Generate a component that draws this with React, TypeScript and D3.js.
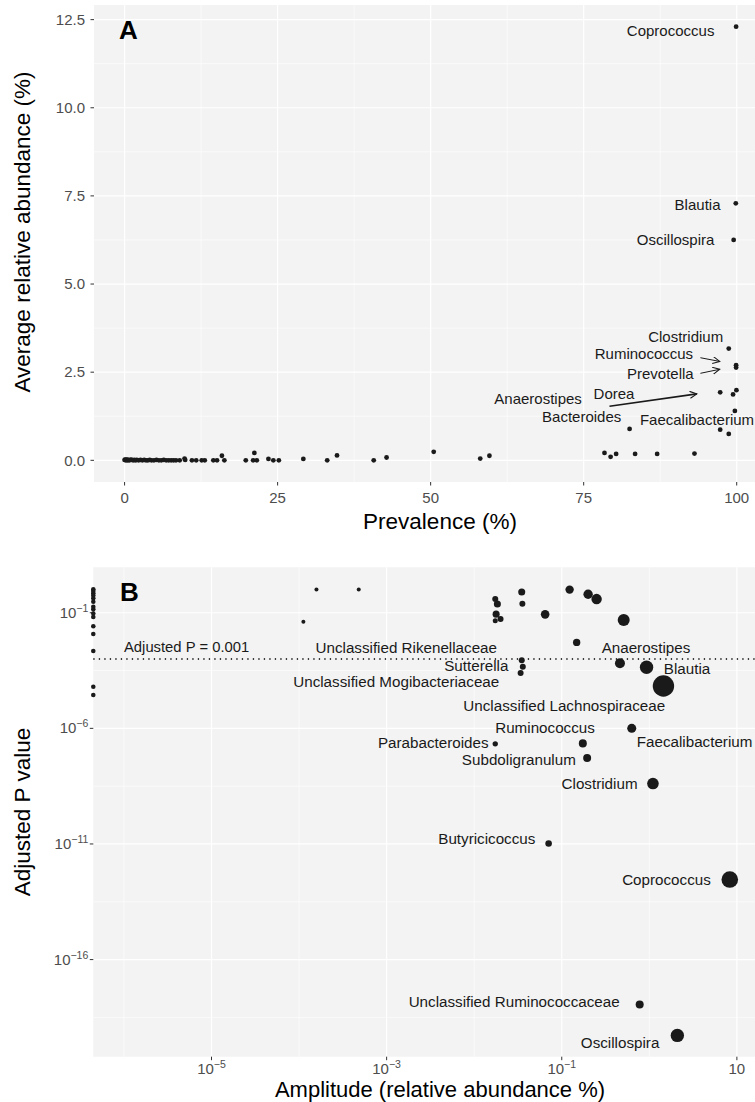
import React from "react";
import * as d3 from "d3";

// ---------- Panel A data (prevalence %, average relative abundance %) ----------
const aPrevalence = [
  0.0, 0.1, 0.2, 0.3, 0.4, 0.5, 0.6, 0.8, 1.0, 1.2, 1.4, 1.6, 1.8, 2.0, 2.3, 2.6, 2.9, 3.2, 3.5, 3.8,
  4.1, 4.4, 4.8, 5.2, 5.6, 6.0, 6.4, 6.8, 7.2, 7.6, 8.0, 8.4,
  9.0, 9.8, 9.9, 11.0, 11.7, 12.6, 13.1, 14.5, 15.1, 15.9, 16.3, 19.8, 21.0, 21.2, 21.6, 23.5, 24.3, 25.2,
  29.2, 33.1, 34.7, 40.7, 42.8, 50.5, 58.1, 59.6, 78.4, 79.4, 80.3, 83.4, 87.0, 93.1, 97.3, 98.7, 99.4,
];
const aAbundance = [
  0.01, 0.02, 0.0, 0.01, 0.02, 0.0, 0.01, 0.0, 0.02, 0.01, 0.0, 0.01, 0.0, 0.01, 0.0, 0.01, 0.0, 0.01, 0.0, 0.0,
  0.01, 0.0, 0.0, 0.01, 0.0, 0.0, 0.01, 0.0, 0.0, 0.0, 0.0, 0.0,
  0.0, 0.05, 0.01, 0.0, 0.0, 0.0, 0.0, 0.0, 0.0, 0.13, 0.0, 0.0, 0.0, 0.21, 0.0, 0.04, 0.0, 0.0,
  0.04, 0.0, 0.14, 0.0, 0.08, 0.24, 0.05, 0.13, 0.21, 0.1, 0.18, 0.18, 0.18, 0.19, 0.87, 0.75, 1.87,
];
const aNames = ["Coprococcus", "Blautia", "Oscillospira", "Clostridium", "Ruminococcus", "Prevotella", "Dorea", "Anaerostipes", "Bacteroides", "Faecalibacterium"];
const aNamedPrev = [99.9, 99.85, 99.5, 98.7, 99.9, 99.9, 99.95, 97.3, 82.5, 99.7];
const aNamedAbund = [12.3, 7.29, 6.25, 3.17, 2.7, 2.63, 1.99, 1.93, 0.89, 1.4];

// label placement (pixel offsets from the point)
const aLabelPlace: Record<string, { anchor: string; dx: number; dy: number; arrow?: number[] }> = {
  Coprococcus: { anchor: "end", dx: -21.7, dy: 4 },
  Blautia: { anchor: "end", dx: -15.3, dy: 1.7 },
  Oscillospira: { anchor: "end", dx: -19.3, dy: 0 },
  Clostridium: { anchor: "end", dx: -5.6, dy: -11.4 },
  Ruminococcus: { anchor: "end", dx: -43, dy: -11.7, arrow: [-35.7, -7.4, -16.4, -3.7] },
  Prevotella: { anchor: "end", dx: -42.4, dy: 5.7, arrow: [-35.7, 5.7, -16.4, 1.7] },
  Dorea: { anchor: "end", dx: -102, dy: 4 },
  Anaerostipes: { anchor: "end", dx: -138.3, dy: 6.3, arrow: [-110.7, 14, -23.3, 1.6] },
  Bacteroides: { anchor: "end", dx: -8.3, dy: -12 },
  Faecalibacterium: { anchor: "start", dx: -95, dy: 9 },
};

// ---------- Panel B data (amplitude %, adjusted P, size ~ abundance) ----------
const bAmplitude = [
  0, 0, 0, 0, 0, 0, 0, 0, 0, 0, 0, 0, 0, 0, 0,
  1.12e-4, 1.58e-4, 4.8e-4, 0.0174, 0.0184, 0.0349, 0.0355, 0.0178, 0.0174, 0.02, 0.0646, 0.123, 0.2, 0.25, 0.51, 0.148,
];
const bPValue = [
  1.03, 0.87, 0.69, 0.55, 0.42, 0.3, 0.18, 0.14, 0.093, 0.066, 0.026, 0.012, 0.0022, 6.3e-5, 2.75e-5,
  0.041, 1.02, 1.02, 0.39, 0.24, 0.79, 0.245, 0.087, 0.045, 0.054, 0.085, 1.0, 0.63, 0.39, 0.048, 0.0052,
];
const bSize = [
  1.3, 1.3, 1.3, 1.3, 1.3, 1.3, 1.3, 1.3, 1.3, 1.3, 1.3, 1.3, 1.3, 1.3, 1.3,
  1.0, 1.0, 1.0, 2.25, 3.1, 3.1, 2.25, 3.1, 1.56, 2.25, 4.6, 4.4, 5.5, 6.8, 9.0, 3.4,
];
const bNames = [
  "Unclassified Rikenellaceae", "Sutterella", "Unclassified Mogibacteriaceae", "Anaerostipes", "Blautia",
  "Unclassified Lachnospiraceae", "Faecalibacterium", "Ruminococcus", "Parabacteroides", "Subdoligranulum",
  "Clostridium", "Butyricicoccus", "Coprococcus", "Unclassified Ruminococcaceae", "Oscillospira",
];
const bNamedAmp = [0.0349, 0.0359, 0.0339, 0.462, 0.93, 1.45, 0.63, 0.174, 0.0174, 0.195, 1.1, 0.0708, 8.3, 0.776, 2.09];
const bNamedP = [8.9e-4, 4.6e-4, 2.5e-4, 6.5e-4, 4.4e-4, 6.8e-5, 1.0e-6, 2.24e-7, 2.14e-7, 5.25e-8, 4.1e-9, 1.05e-11, 2.9e-13, 1.15e-18, 5.25e-20];
const bNamedSize = [2.25, 2.25, 2.25, 6.25, 11.2, 28.6, 5.1, 4.0, 1.8, 4.0, 8.4, 2.7, 17.2, 4.0, 11.2];

const bLabelPlace: Record<string, { anchor: string; dx: number; dy: number }> = {
  "Unclassified Rikenellaceae": { anchor: "end", dx: -24.7, dy: -12.7 },
  Sutterella: { anchor: "end", dx: -14.4, dy: -0.7 },
  "Unclassified Mogibacteriaceae": { anchor: "end", dx: -21.4, dy: 9 },
  Anaerostipes: { anchor: "start", dx: -18.3, dy: -16 },
  Blautia: { anchor: "start", dx: 17.3, dy: 1 },
  "Unclassified Lachnospiraceae": { anchor: "end", dx: 1.7, dy: 19.7 },
  Faecalibacterium: { anchor: "start", dx: 5, dy: 13.4 },
  Ruminococcus: { anchor: "end", dx: 12, dy: -16 },
  Parabacteroides: { anchor: "end", dx: -6.7, dy: -0.7 },
  Subdoligranulum: { anchor: "end", dx: -11.3, dy: 1.6 },
  Clostridium: { anchor: "end", dx: -15.4, dy: 0 },
  Butyricicoccus: { anchor: "end", dx: -13.3, dy: -5 },
  Coprococcus: { anchor: "end", dx: -19, dy: 0 },
  "Unclassified Ruminococcaceae": { anchor: "end", dx: -20, dy: -2.3 },
  Oscillospira: { anchor: "end", dx: -18, dy: 7.7 },
};

const aXTicks = [0, 25, 50, 75, 100];
const aXMinor = [12.5, 37.5, 62.5, 87.5];
const aYTicks = [0, 2.5, 5, 7.5, 10, 12.5];
const aYMinor = [1.25, 3.75, 6.25, 8.75, 11.25];
const bXTickExp = [-5, -3, -1, 1];
const bXMinorExp = [-6, -4, -2, 0];
const bYTickExp = [-1, -6, -11, -16];
const bYMinorExp = [-3.5, -8.5, -13.5, -18.5];
const pThreshold = 0.001;

const W = 755;
const H = 1102;
const FONT = "'Liberation Sans', Arial, Helvetica, sans-serif";
const PANEL_BG = "#F3F3F3";
const TICK_COL = "#4D4D4D";
const INK = "#1A1A1A";

export default function App() {
  // Panel A scales
  const aLeft = 94, aRight = 767, aTop = 5, aBottom = 482;
  const allPrev = [...aPrevalence, ...aNamedPrev];
  const allAb = [...aAbundance, ...aNamedAbund];
  const [px0, px1] = d3.extent(allPrev) as [number, number];
  const [py0, py1] = d3.extent(allAb) as [number, number];
  const ex = (px1 - px0) * 0.05, ey = (py1 - py0) * 0.05;
  const xA = d3.scaleLinear().domain([px0 - ex, px1 + ex]).range([aLeft, aRight]);
  const yA = d3.scaleLinear().domain([py0 - ey, py1 + ey]).range([aBottom, aTop]);

  // Panel B scales
  const bLeft = 93.3, bRight = 767, bTop = 567.3, bBottom = 1056.7;
  const xB = d3.scaleLog().domain([Math.pow(10, -6.35), Math.pow(10, 1.344)]).range([bLeft, bRight]).clamp(true);
  const yB = d3.scaleLog().domain([Math.pow(10, -20.2), Math.pow(10, 0.965)]).range([bBottom, bTop]);
  const rB = d3.scaleSqrt().domain([0, 28.6]).range([0, 10.7]);
  const xBpos = (v: number) => (v <= 0 ? bLeft : xB(v));

  const bOther = bAmplitude.map((a, i) => ({ a, p: bPValue[i], s: bSize[i] }));
  const bNamed = bNames.map((n, i) => ({ n, a: bNamedAmp[i], p: bNamedP[i], s: bNamedSize[i] }));

  const aOther = aPrevalence.map((p, i) => ({ p, v: aAbundance[i] }));
  const aNamed = aNames.map((n, i) => ({ n, p: aNamedPrev[i], v: aNamedAbund[i] }));

  const sup = (e: number) => (e < 0 ? "\u2212" + Math.abs(e) : String(e));

  return (
    <div style={{ position: "absolute", left: 0, top: 0 }}>
      <svg width={W} height={H} style={{ display: "block", background: "#fff" }} fontFamily={FONT}>
        <defs>
          <marker id="arr" markerWidth="8" markerHeight="8" refX="7" refY="3.5" orient="auto" markerUnits="userSpaceOnUse">
            <path d="M0,0 L7,3.5 L0,7" fill="none" stroke={INK} strokeWidth="1.1" />
          </marker>
        </defs>

        {/* ---------------- Panel A ---------------- */}
        <rect x={aLeft} y={aTop} width={aRight - aLeft} height={aBottom - aTop} fill={PANEL_BG} />
        {aXMinor.map((t) => <line key={"axm" + t} x1={xA(t)} x2={xA(t)} y1={aTop} y2={aBottom} stroke="#fff" strokeWidth={0.6} />)}
        {aYMinor.map((t) => <line key={"aym" + t} x1={aLeft} x2={aRight} y1={yA(t)} y2={yA(t)} stroke="#fff" strokeWidth={0.6} />)}
        {aXTicks.map((t) => <line key={"axg" + t} x1={xA(t)} x2={xA(t)} y1={aTop} y2={aBottom} stroke="#fff" strokeWidth={1.2} />)}
        {aYTicks.map((t) => <line key={"ayg" + t} x1={aLeft} x2={aRight} y1={yA(t)} y2={yA(t)} stroke="#fff" strokeWidth={1.2} />)}
        {aXTicks.map((t) => (
          <g key={"axt" + t}>
            <line x1={xA(t)} x2={xA(t)} y1={aBottom} y2={aBottom + 3.5} stroke="#333" strokeWidth={1} />
            <text x={xA(t)} y={aBottom + 16} dy="0.35em" textAnchor="middle" fontSize={15} fill={TICK_COL}>{t}</text>
          </g>
        ))}
        {aYTicks.map((t) => (
          <g key={"ayt" + t}>
            <line x1={aLeft - 3.5} x2={aLeft} y1={yA(t)} y2={yA(t)} stroke="#333" strokeWidth={1} />
            <text x={aLeft - 9} y={yA(t)} dy="0.35em" textAnchor="end" fontSize={15} fill={TICK_COL}>{t.toFixed(1)}</text>
          </g>
        ))}
        <g>
          {aOther.map((d, i) => <circle key={"ao" + i} cx={xA(d.p)} cy={yA(d.v)} r={2.4} fill={INK} />)}
          {aNamed.map((d) => <circle key={"an" + d.n} cx={xA(d.p)} cy={yA(d.v)} r={2.4} fill={INK} />)}
        </g>
        {aNamed.map((d) => {
          const pl = aLabelPlace[d.n];
          const cx = xA(d.p), cy = yA(d.v);
          return (
            <g key={"al" + d.n}>
              <text x={cx + pl.dx} y={cy + pl.dy} dy="0.35em" textAnchor={pl.anchor} fontSize={15} fill={INK}>{d.n}</text>
              {pl.arrow && (
                <line x1={cx + pl.arrow[0]} y1={cy + pl.arrow[1]} x2={cx + pl.arrow[2]} y2={cy + pl.arrow[3]}
                  stroke={INK} strokeWidth={d.n === "Anaerostipes" ? 1.6 : 1} markerEnd="url(#arr)" />
              )}
            </g>
          );
        })}
        <text x={119} y={30} dy="0.35em" fontSize={26} fontWeight="bold" fill="#000">A</text>
        <text x={440} y={521} dy="0.35em" textAnchor="middle" fontSize={22.5} fill="#000">Prevalence (%)</text>
        <text transform={`translate(22,232) rotate(-90)`} dy="0.35em" textAnchor="middle" fontSize={22.5} fill="#000">Average relative abundance (%)</text>

        {/* ---------------- Panel B ---------------- */}
        <rect x={bLeft} y={bTop} width={bRight - bLeft} height={bBottom - bTop} fill={PANEL_BG} />
        {bXMinorExp.map((e) => <line key={"bxm" + e} x1={xB(Math.pow(10, e))} x2={xB(Math.pow(10, e))} y1={bTop} y2={bBottom} stroke="#fff" strokeWidth={0.6} />)}
        {bYMinorExp.map((e) => <line key={"bym" + e} x1={bLeft} x2={bRight} y1={yB(Math.pow(10, e))} y2={yB(Math.pow(10, e))} stroke="#fff" strokeWidth={0.6} />)}
        {bXTickExp.map((e) => <line key={"bxg" + e} x1={xB(Math.pow(10, e))} x2={xB(Math.pow(10, e))} y1={bTop} y2={bBottom} stroke="#fff" strokeWidth={1.2} />)}
        {bYTickExp.map((e) => <line key={"byg" + e} x1={bLeft} x2={bRight} y1={yB(Math.pow(10, e))} y2={yB(Math.pow(10, e))} stroke="#fff" strokeWidth={1.2} />)}
        {bXTickExp.map((e) => {
          const x = xB(Math.pow(10, e));
          return (
            <g key={"bxt" + e}>
              <line x1={x} x2={x} y1={bBottom} y2={bBottom + 3.5} stroke="#333" strokeWidth={1} />
              {e === 1 ? (
                <text x={x} y={bBottom + 12} dy="0.35em" textAnchor="middle" fontSize={15} fill={TICK_COL}>10</text>
              ) : (
                <text x={x} y={bBottom + 12} dy="0.35em" textAnchor="middle" fontSize={15} fill={TICK_COL}>
                  10<tspan dy="-6" fontSize={10.5}>{sup(e)}</tspan>
                </text>
              )}
            </g>
          );
        })}
        {bYTickExp.map((e) => {
          const y = yB(Math.pow(10, e));
          return (
            <g key={"byt" + e}>
              <line x1={bLeft - 3.5} x2={bLeft} y1={y} y2={y} stroke="#333" strokeWidth={1} />
              <text x={bLeft - 5} y={y + 5} textAnchor="end" fontSize={15} fill={TICK_COL}>
                10<tspan dy="-6" fontSize={10.5}>{sup(e)}</tspan>
              </text>
            </g>
          );
        })}
        <line x1={bLeft} x2={bRight} y1={yB(pThreshold)} y2={yB(pThreshold)} stroke="#000" strokeWidth={1.3} strokeDasharray="1.3,4.2" />
        <text x={124} y={yB(pThreshold) - 12.5} dy="0.35em" fontSize={14.8} fill={INK}>Adjusted P = 0.001</text>
        <g>
          {bOther.map((d, i) => <circle key={"bo" + i} cx={xBpos(d.a)} cy={yB(d.p)} r={rB(d.s)} fill={INK} />)}
          {bNamed.map((d) => <circle key={"bn" + d.n} cx={xBpos(d.a)} cy={yB(d.p)} r={rB(d.s)} fill={INK} />)}
        </g>
        {bNamed.map((d) => {
          const pl = bLabelPlace[d.n];
          return (
            <text key={"bl" + d.n} x={xBpos(d.a) + pl.dx} y={yB(d.p) + pl.dy} dy="0.35em" textAnchor={pl.anchor} fontSize={15.2} fill={INK}>{d.n}</text>
          );
        })}
        <text x={120} y={592} dy="0.35em" fontSize={26} fontWeight="bold" fill="#000">B</text>
        <text x={440} y={1089} dy="0.35em" textAnchor="middle" fontSize={22} fill="#000">Amplitude (relative abundance %)</text>
        <text transform={`translate(22,812) rotate(-90)`} dy="0.35em" textAnchor="middle" fontSize={22.5} fill="#000">Adjusted P value</text>
      </svg>
    </div>
  );
}
